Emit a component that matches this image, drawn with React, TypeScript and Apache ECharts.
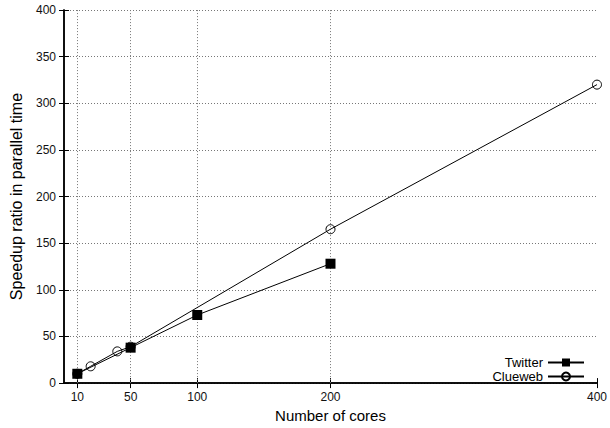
import React, { useEffect, useRef } from "react";
import * as echarts from "echarts";

const xTicks = [10, 50, 100, 200, 400];
const xGridLines = [10, 50, 100, 200];
const twitterCores = [10, 50, 100, 200];
const twitterSpeedup = [10, 38, 73, 128];
const cluewebCores = [10, 20, 40, 50, 200, 400];
const cluewebSpeedup = [10, 18, 34, 39, 165, 320];

const FONT = "Liberation Sans, Arial, Helvetica, sans-serif";

export default function App() {
  const ref = useRef<HTMLDivElement>(null);
  useEffect(() => {
    if (!ref.current) return;
    const chart = echarts.init(ref.current, undefined, { renderer: "svg" });
    const tickLen = 5;
    chart.setOption({
      animation: false,
      backgroundColor: "#fff",
      textStyle: { fontFamily: FONT },
      grid: { left: 64, right: 10, top: 10, bottom: 40, show: false },
      legend: {
        data: ["Twitter", "Clueweb"],
        orient: "vertical",
        right: 25,
        bottom: 45,
        align: "right",
        itemWidth: 36,
        itemHeight: 10,
        itemGap: 1,
        padding: 0,
        textStyle: { fontFamily: FONT, fontSize: 13, lineHeight: 13, color: "#000" },
      },
      xAxis: [
        {
          type: "value",
          min: 0,
          max: 400,
          name: "Number of cores",
          nameLocation: "middle",
          nameGap: 22,
          nameTextStyle: { fontFamily: FONT, fontSize: 15, color: "#000" },
          axisLine: { show: true, lineStyle: { color: "#000", width: 1.5 } },
          axisTick: { show: true, inside: true, length: tickLen, customValues: xTicks, lineStyle: { color: "#000" } },
          axisLabel: { customValues: xTicks, fontSize: 12, color: "#111", margin: 8, fontFamily: FONT },
          splitLine: { show: false },
        },
        {
          type: "value",
          position: "top",
          min: 0,
          max: 400,
          axisLine: { show: true, lineStyle: { color: "#000", width: 1.5 } },
          axisTick: { show: true, inside: true, length: tickLen, customValues: xTicks, lineStyle: { color: "#000" } },
          axisLabel: { show: false },
          splitLine: { show: false },
        },
      ],
      yAxis: [
        {
          type: "value",
          min: 0,
          max: 400,
          interval: 50,
          name: "Speedup ratio in parallel time",
          nameLocation: "middle",
          nameGap: 40,
          nameTextStyle: { fontFamily: FONT, fontSize: 16, color: "#000" },
          axisLine: { show: true, lineStyle: { color: "#000", width: 1.5 } },
          axisTick: { show: true, inside: true, length: tickLen, lineStyle: { color: "#000" } },
          axisLabel: { fontSize: 12, color: "#111", margin: 8, fontFamily: FONT },
          splitLine: { show: true, lineStyle: { type: [1, 2], color: "#777", width: 1 } },
        },
        {
          type: "value",
          position: "right",
          min: 0,
          max: 400,
          interval: 50,
          axisLine: { show: true, lineStyle: { color: "#000", width: 1.5 } },
          axisTick: { show: true, inside: true, length: tickLen, lineStyle: { color: "#000" } },
          axisLabel: { show: false },
          splitLine: { show: false },
        },
      ],
      series: [
        {
          name: "Twitter",
          type: "line",
          xAxisIndex: 0,
          yAxisIndex: 0,
          data: twitterCores.map((c, i) => [c, twitterSpeedup[i]]),
          symbol: "rect",
          symbolSize: 10,
          showAllSymbol: true,
          lineStyle: { color: "#000", width: 1 },
          itemStyle: { color: "#000" },
          z: 5,
          markLine: {
            silent: true,
            symbol: ["none", "none"],
            label: { show: false },
            lineStyle: { type: [1, 2], color: "#777", width: 1 },
            data: xGridLines.map((v) => ({ xAxis: v })),
            z: 1,
          },
        },
        {
          name: "Clueweb",
          type: "line",
          xAxisIndex: 0,
          yAxisIndex: 0,
          data: cluewebCores.map((c, i) => [c, cluewebSpeedup[i]]),
          symbol: "circle",
          symbolSize: 9,
          showAllSymbol: true,
          lineStyle: { color: "#000", width: 1 },
          itemStyle: { color: "none", borderColor: "#000", borderWidth: 1 },
          z: 3,
        },
      ],
    });
    return () => chart.dispose();
  }, []);
  return <div ref={ref} style={{ width: 610, height: 428, position: "absolute", left: 0, top: 0 }} />;
}
